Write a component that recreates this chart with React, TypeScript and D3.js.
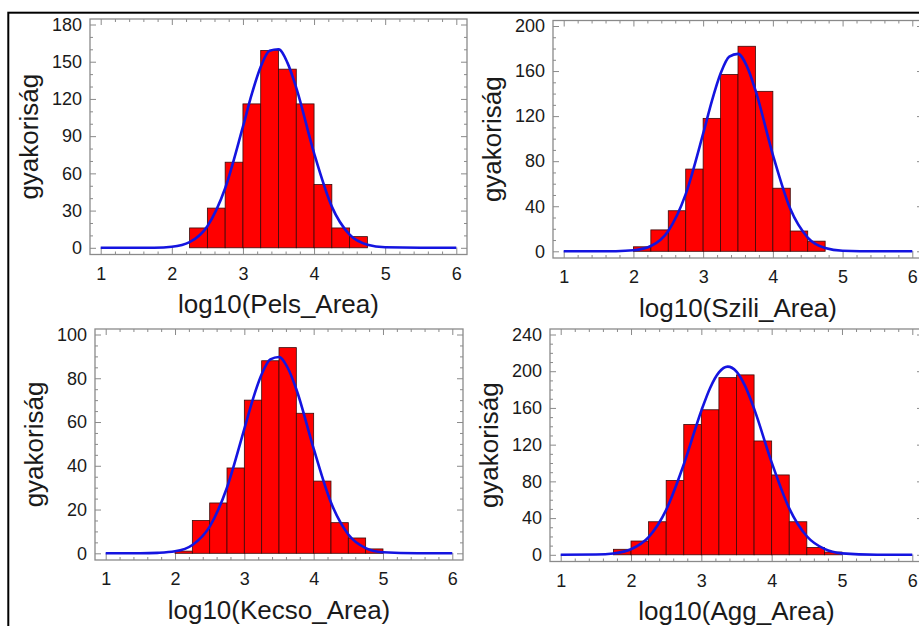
import React, { useEffect, useRef } from 'react';
import * as d3 from 'd3';

// histogram bins (lower edges), width 0.25 in log10 units
const binLower = [1.75, 2, 2.25, 2.5, 2.75, 3, 3.25, 3.5, 3.75, 4, 4.25, 4.5, 4.75];
const binWidth = 0.25;

const pelsCounts = [0, 0, 16, 32, 69, 116, 159, 144, 116, 51, 16, 9, 0];
const sziliCounts = [0, 4, 19, 36, 73, 118, 157, 182, 142, 56, 18, 9, 0];
const kecsoCounts = [0, 1, 15, 23, 39, 70, 88, 94, 64, 33, 14, 7, 2];
const aggCounts = [6, 15, 36, 81, 142, 158, 193, 196, 124, 87, 36, 8, 3];

// fitted curve
const curveX = [1, 1.5, 1.75, 2, 2.25, 2.5, 2.75, 3, 3.125, 3.25, 3.375, 3.5, 3.625, 3.75, 4, 4.25, 4.5, 4.75, 5, 5.5, 6];
const pelsFit = [0, 0, 0.1, 0.9, 4.6, 17.4, 48, 97.6, 124, 145.9, 158.8, 160, 149.3, 128.9, 76.3, 33.2, 10.6, 2.5, 0.4, 0, 0];
const sziliFit = [0, 0, 0.1, 0.9, 4.7, 18.1, 50.7, 104.4, 133.4, 157.8, 172.9, 175.3, 164.6, 143, 85.7, 37.7, 12.2, 2.9, 0.5, 0, 0];
const kecsoFit = [0, 0, 0.2, 0.9, 3.8, 12.2, 30.1, 56.9, 70.6, 81.8, 88.6, 89.7, 84.8, 75, 47.8, 23.2, 8.6, 2.4, 0.5, 0, 0];
const aggFit = [0, 0.3, 1.5, 6.1, 19.3, 49, 98.4, 157, 181.8, 198.7, 205, 199.6, 183.5, 159.2, 100.7, 50.6, 20.2, 6.4, 1.6, 0.1, 0];

const xTicks = [1, 2, 3, 4, 5, 6];
const pelsTicks = [0, 30, 60, 90, 120, 150, 180];
const sziliTicks = [0, 40, 80, 120, 160, 200];
const kecsoTicks = [0, 20, 40, 60, 80, 100];
const aggTicks = [0, 40, 80, 120, 160, 200, 240];

const yLabel = 'gyakoriság';

const panels = [
  { title: 'log10(Pels_Area)', counts: pelsCounts, fit: pelsFit, ticks: pelsTicks, minor: 10, box: { left: 90, top: 19, right: 467, bottom: 254.5 } },
  { title: 'log10(Szili_Area)', counts: sziliCounts, fit: sziliFit, ticks: sziliTicks, minor: 10, box: { left: 553, top: 20.5, right: 923, bottom: 258 } },
  { title: 'log10(Kecso_Area)', counts: kecsoCounts, fit: kecsoFit, ticks: kecsoTicks, minor: 5, box: { left: 95, top: 329, right: 463, bottom: 560 } },
  { title: 'log10(Agg_Area)', counts: aggCounts, fit: aggFit, ticks: aggTicks, minor: 10, box: { left: 550, top: 329, right: 923, bottom: 561.5 } },
];

const font = '"Liberation Sans", Arial, sans-serif';
const gray = '#8a8a8a';

export default function App() {
  const ref = useRef<SVGSVGElement>(null);

  useEffect(() => {
    const svg = d3.select(ref.current);
    svg.selectAll('*').remove();

    svg.append('rect').attr('width', 919).attr('height', 626).attr('fill', '#ffffff');

    panels.forEach(p => {
      const b = p.box;
      const g = svg.append('g');
      const yMax = d3.max(p.ticks) as number;

      const x = d3.scaleLinear().domain([1, 6]).range([b.left + 10.7, b.right - 10.7]);
      const y = d3.scaleLinear().domain([0, yMax]).range([b.bottom - 6.7, b.top + 5.5]);

      const xMinor = d3.range(1, 6.001, 0.2).filter(v => Math.abs(v - Math.round(v)) > 1e-6);
      const yMinor = d3.range(0, yMax + 0.001, p.minor).filter(v => !p.ticks.includes(v));

      g.append('rect')
        .attr('x', b.left).attr('y', b.top)
        .attr('width', b.right - b.left).attr('height', b.bottom - b.top)
        .attr('fill', '#ffffff').attr('stroke', gray).attr('stroke-width', 1.3);

      // ticks, all pointing inward
      const tickAxis = (axis: any, tx: number, ty: number, size: number, vals: number[], labels: boolean) => {
        const a = g.append('g').attr('transform', `translate(${tx},${ty})`)
          .call(axis.tickValues(vals).tickSize(-size).tickPadding(labels ? 8 : 0)
            .tickFormat(labels ? d3.format('d') : () => ''));
        a.select('.domain').remove();
        a.selectAll('line').attr('stroke', gray).attr('stroke-width', 1);
        a.selectAll('text').attr('fill', '#1a1a1a').style('font-family', font).style('font-size', '18px');
        return a;
      };

      tickAxis(d3.axisLeft(y), b.left, 0, 6, p.ticks, true);
      tickAxis(d3.axisLeft(y), b.left, 0, 3, yMinor, false);
      tickAxis(d3.axisRight(y), b.right, 0, 6, p.ticks, false);
      tickAxis(d3.axisRight(y), b.right, 0, 3, yMinor, false);
      const xa = tickAxis(d3.axisBottom(x), 0, b.bottom, 7, xTicks, true);
      xa.selectAll('text').attr('dy', '0').attr('y', 25);
      tickAxis(d3.axisBottom(x), 0, b.bottom, 3, xMinor, false);
      tickAxis(d3.axisTop(x), 0, b.top, 6, xTicks, false);
      tickAxis(d3.axisTop(x), 0, b.top, 3, xMinor, false);

      // bars
      const bins = binLower.map((lo, i) => ({ lo, c: p.counts[i] })).filter(d => d.c > 0);
      g.append('g').selectAll('rect').data(bins).join('rect')
        .attr('x', d => x(d.lo))
        .attr('width', d => x(d.lo + binWidth) - x(d.lo))
        .attr('y', d => y(d.c))
        .attr('height', d => y(0) - y(d.c))
        .attr('fill', '#ff0000')
        .attr('stroke', '#3a0a0a')
        .attr('stroke-width', 0.8);

      // fitted curve
      const line = d3.line<number>()
        .x((d, i) => x(curveX[i]))
        .y(d => y(d))
        .curve(d3.curveMonotoneX);
      g.append('path').datum(p.fit)
        .attr('d', line)
        .attr('fill', 'none')
        .attr('stroke', '#1414e0')
        .attr('stroke-width', 2.6);

      // titles
      g.append('text')
        .attr('x', (b.left + b.right) / 2).attr('y', b.bottom + 58.5)
        .attr('text-anchor', 'middle')
        .attr('fill', '#1a1a1a')
        .style('font-family', font).style('font-size', '26px')
        .text(p.title);

      g.append('text')
        .attr('transform', `translate(${b.left - 52},${(b.top + b.bottom) / 2}) rotate(-90)`)
        .attr('text-anchor', 'middle')
        .attr('fill', '#1a1a1a')
        .style('font-family', font).style('font-size', '26px')
        .text(yLabel);
    });

    // outer frame
    svg.append('rect')
      .attr('x', 8.3).attr('y', 12.7)
      .attr('width', 1000).attr('height', 1000)
      .attr('fill', 'none').attr('stroke', '#000').attr('stroke-width', 2);
  }, []);

  return (
    <svg ref={ref} width={919} height={626}
      style={{ position: 'absolute', left: 0, top: 0, display: 'block' }} />
  );
}
